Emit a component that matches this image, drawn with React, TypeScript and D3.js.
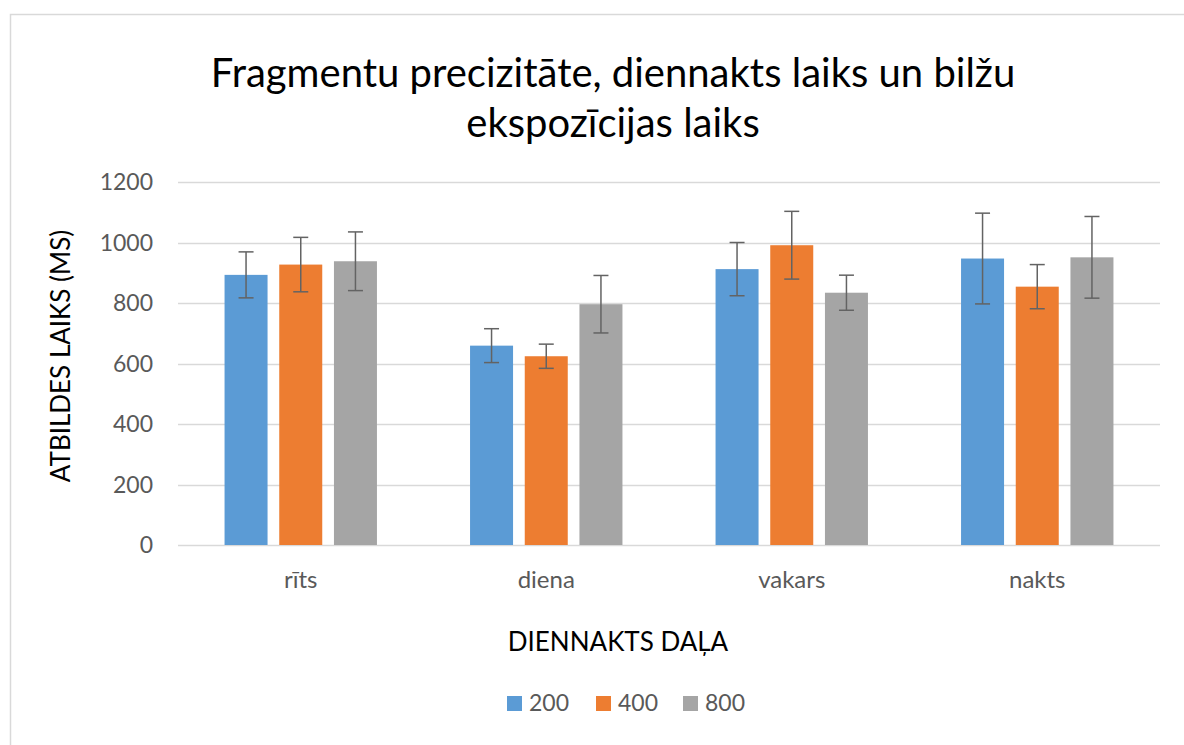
import React from "react";
import * as d3 from "d3";

const categories = ["rīts", "diena", "vakars", "nakts"];
const seriesNames = ["200", "400", "800"];
const values200 = [893, 659, 912, 947];
const errors200 = [76, 56, 88, 150];
const values400 = [927, 624, 991, 854];
const errors400 = [90, 40, 112, 73];
const values800 = [938, 796, 834, 951];
const errors800 = [97, 95, 58, 135];
const yTicks = [0, 200, 400, 600, 800, 1000, 1200];
const colors = ["#5B9BD5", "#ED7D31", "#A5A5A5"];

const titleLines = ["Fragmentu precizitāte, diennakts laiks un bilžu", "ekspozīcijas laiks"];
const yLabel = "ATBILDES LAIKS (MS)";
const xLabel = "DIENNAKTS DAĻA";

const FONT = "Lato, 'Open Sans', sans-serif";

export default function App() {
  const W = 1184, H = 745;
  const plot = { left: 178, right: 1160, top: 182, bottom: 545 };
  const x = d3.scaleBand<string>().domain(categories).range([plot.left, plot.right]).paddingInner(0).paddingOuter(0);
  const y = d3.scaleLinear().domain([0, 1200]).range([plot.bottom, plot.top]);
  const barW = 43;
  const step = 54.7;
  const series = [
    { name: seriesNames[0], vals: values200, errs: errors200 },
    { name: seriesNames[1], vals: values400, errs: errors400 },
    { name: seriesNames[2], vals: values800, errs: errors800 },
  ];
  const legendX = [507, 596, 683];

  return (
    <svg width={W} height={H} style={{ position: "absolute", left: 0, top: 0, background: "#fff" }} fontFamily={FONT}>
      <rect x={0} y={0} width={W} height={H} fill="#fff" />
      <path d={`M10.5,${H} L10.5,14.5 L${W},14.5`} fill="none" stroke="#D9D9D9" strokeWidth={1.5} />
      {titleLines.map((t, i) => (
        <text key={i} x={613} y={87 + i * 50} textAnchor="middle" fontSize={40} fill="#000">{t}</text>
      ))}
      {yTicks.map((t) => (
        <g key={t}>
          <line x1={plot.left} x2={plot.right} y1={Math.round(y(t)) + 0.5} y2={Math.round(y(t)) + 0.5} stroke="#D9D9D9" strokeWidth={1.3} />
          <text x={153} y={y(t) + 8} textAnchor="end" fontSize={23} fill="#595959">{t}</text>
        </g>
      ))}
      {categories.map((c, ci) => {
        const cx = (x(c) as number) + x.bandwidth() / 2;
        return (
          <g key={c}>
            {series.map((s, si) => {
              const bx = cx + (si - 1) * step;
              const v = s.vals[ci], e = s.errs[ci];
              return (
                <g key={si}>
                  <rect x={bx - barW / 2} y={y(v)} width={barW} height={y(0) - y(v)} fill={colors[si]} />
                  <line x1={bx} x2={bx} y1={y(v + e)} y2={y(v - e)} stroke="#636363" strokeWidth={1.5} />
                  <line x1={bx - 7.5} x2={bx + 7.5} y1={y(v + e)} y2={y(v + e)} stroke="#636363" strokeWidth={1.5} />
                  <line x1={bx - 7.5} x2={bx + 7.5} y1={y(v - e)} y2={y(v - e)} stroke="#636363" strokeWidth={1.5} />
                </g>
              );
            })}
            <text x={cx} y={588} textAnchor="middle" fontSize={24} fill="#595959">{c}</text>
          </g>
        );
      })}
      <text transform={`translate(70,356) rotate(-90)`} textAnchor="middle" fontSize={26} fill="#000">{yLabel}</text>
      <text x={618} y={651} textAnchor="middle" fontSize={26} fill="#000">{xLabel}</text>
      {series.map((s, si) => (
        <g key={s.name}>
          <rect x={legendX[si]} y={696} width={15} height={15} fill={colors[si]} />
          <text x={legendX[si] + 22} y={711} fontSize={23} fill="#595959">{s.name}</text>
        </g>
      ))}
    </svg>
  );
}
